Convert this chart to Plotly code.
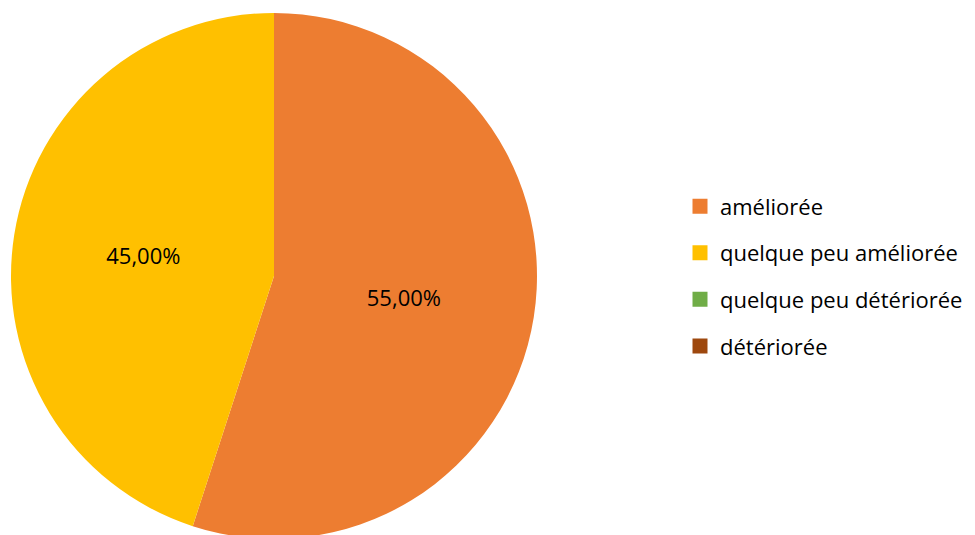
import plotly.graph_objects as go

categories = ["améliorée", "quelque peu améliorée", "quelque peu détériorée", "détériorée"]
values = [55.0, 45.0, 0.0, 0.0]
colors = ["#ED7D31", "#FFC000", "#70AD47", "#9E480E"]

W, H = 967, 544
FONT = "Open Sans"
OFF = 8  # page body margin

def fr(v):
    return f"{v:.2f}".replace(".", ",") + "%"

texts = [fr(v) if v > 0 else "" for v in values]

fig = go.Figure()
fig.add_trace(go.Pie(
    labels=categories, values=values, sort=False, direction="clockwise", rotation=0,
    marker=dict(colors=colors, line=dict(width=0)),
    text=texts, textinfo="text", textposition="inside",
    insidetextorientation="horizontal",
    textfont=dict(family=FONT, size=22, color="black"),
    showlegend=False, hoverinfo="label+percent",
    domain=dict(x=[(11 - OFF) / W, (537 - OFF) / W],
                y=[(H - (539 - OFF)) / H, (H - (13 - OFF)) / H]),
))
for i, (c, col) in enumerate(zip(categories, colors)):
    fig.add_trace(go.Scatter(
        x=[None], y=[None], mode="markers", name=c, legendgroup=str(i),
        marker=dict(symbol="square", size=15, color=col),
    ))

fig.update_layout(
    width=W, height=H, margin=dict(l=0, r=0, t=0, b=0),
    paper_bgcolor="white", plot_bgcolor="white",
    xaxis=dict(visible=False), yaxis=dict(visible=False),
    legend=dict(x=(680 - OFF) / W, y=0.674, xanchor="left", yanchor="top",
                font=dict(family=FONT, size=22, color="black"),
                tracegroupgap=15, itemwidth=30),
)
fig.write_html("out.html")
